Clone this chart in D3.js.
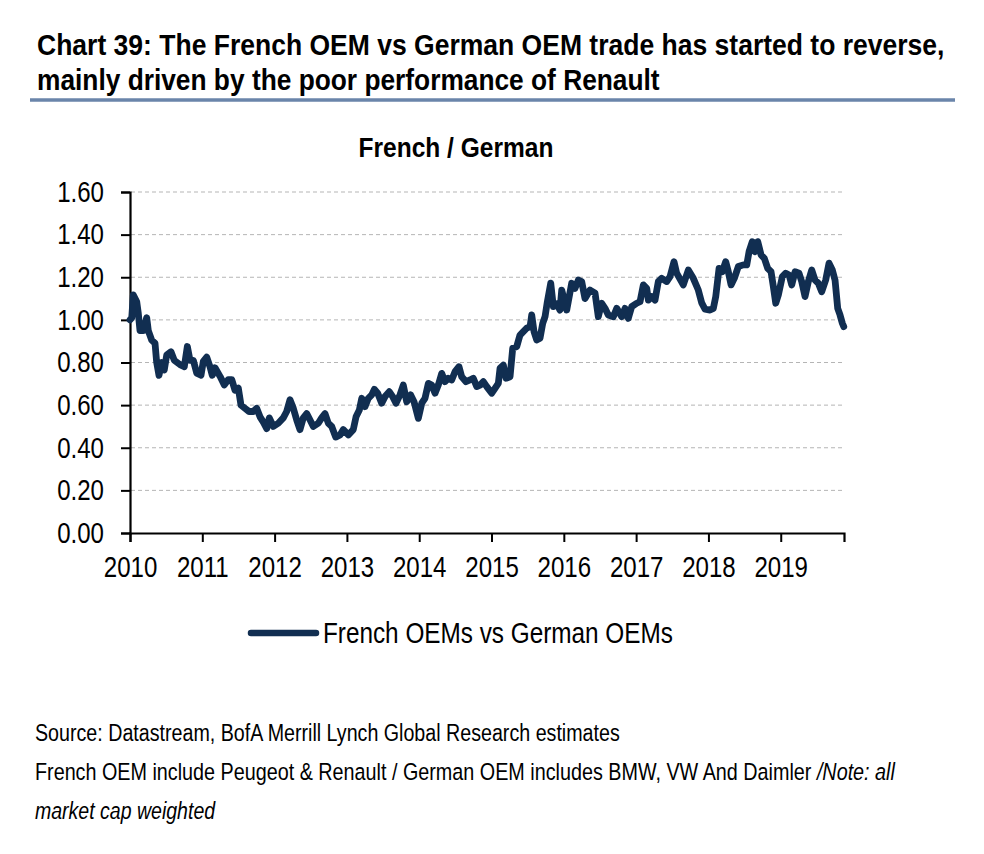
<!DOCTYPE html>
<html><head><meta charset="utf-8">
<script src="https://cdn.jsdelivr.net/npm/d3@7"></script>
<style>
body{margin:0;background:#fff;}
svg text{font-family:"Liberation Sans Narrow","Arial Narrow","Liberation Sans",Arial,sans-serif;fill:#000;}
</style></head><body>
<svg id="chart" width="984" height="854"></svg>
<script>
// ---- data (decimal years, ratio French/German) ----
const dates = [
2010.000,2010.024,2010.046,2010.093,2010.115,2010.138,2010.184,2010.231,2010.253,2010.300,
2010.346,2010.369,2010.401,2010.438,2010.474,2010.508,2010.567,2010.613,2010.692,2010.751,
2010.793,2010.830,2010.876,2010.923,2010.982,2011.014,2011.061,2011.107,2011.138,2011.176,
2011.245,2011.304,2011.360,2011.407,2011.452,2011.498,2011.535,2011.591,2011.646,2011.705,
2011.752,2011.798,2011.844,2011.891,2011.927,2011.982,2012.051,2012.120,2012.167,2012.213,
2012.259,2012.306,2012.351,2012.397,2012.444,2012.490,2012.535,2012.604,2012.651,2012.697,
2012.743,2012.790,2012.845,2012.905,2012.950,2013.020,2013.088,2013.126,2013.172,2013.205,
2013.250,2013.296,2013.343,2013.379,2013.426,2013.481,2013.527,2013.586,2013.633,2013.679,
2013.734,2013.780,2013.827,2013.882,2013.928,2013.988,2014.035,2014.080,2014.126,2014.173,
2014.219,2014.264,2014.311,2014.357,2014.402,2014.449,2014.495,2014.550,2014.588,2014.647,
2014.703,2014.748,2014.795,2014.841,2014.887,2014.934,2015.003,2015.048,2015.094,2015.118,
2015.163,2015.201,2015.256,2015.293,2015.349,2015.394,2015.440,2015.487,2015.533,2015.556,
2015.588,2015.625,2015.671,2015.708,2015.740,2015.772,2015.819,2015.855,2015.902,2015.947,
2015.971,2016.040,2016.109,2016.155,2016.201,2016.247,2016.293,2016.362,2016.432,2016.477,
2016.524,2016.570,2016.615,2016.685,2016.732,2016.801,2016.846,2016.892,2016.939,2017.008,
2017.054,2017.100,2017.147,2017.169,2017.215,2017.261,2017.307,2017.354,2017.423,2017.469,
2017.524,2017.561,2017.652,2017.722,2017.791,2017.860,2017.907,2017.953,2018.022,2018.068,
2018.101,2018.147,2018.192,2018.239,2018.275,2018.313,2018.358,2018.413,2018.483,2018.530,
2018.562,2018.607,2018.645,2018.682,2018.728,2018.773,2018.820,2018.866,2018.898,2018.931,
2018.967,2019.022,2019.069,2019.115,2019.152,2019.198,2019.253,2019.290,2019.336,2019.382,
2019.429,2019.474,2019.520,2019.567,2019.622,2019.668,2019.714,2019.751,2019.788,2019.820,
2019.852,2019.872
];
const values = [
1.00,1.01,1.117,1.085,1.03,0.95,0.95,1.01,0.95,0.905,
0.89,0.80,0.74,0.80,0.765,0.835,0.85,0.81,0.79,0.78,
0.875,0.81,0.81,0.75,0.74,0.805,0.825,0.78,0.74,0.775,
0.735,0.695,0.72,0.72,0.67,0.68,0.60,0.585,0.57,0.57,
0.585,0.545,0.52,0.49,0.54,0.50,0.515,0.54,0.57,0.625,
0.585,0.53,0.485,0.54,0.56,0.53,0.50,0.515,0.54,0.56,
0.515,0.50,0.45,0.46,0.485,0.46,0.485,0.545,0.577,0.632,
0.593,0.632,0.648,0.674,0.656,0.609,0.64,0.663,0.64,0.609,
0.648,0.694,0.616,0.648,0.616,0.538,0.609,0.632,0.702,0.694,
0.656,0.694,0.749,0.71,0.726,0.718,0.757,0.78,0.733,0.71,
0.718,0.726,0.687,0.694,0.71,0.687,0.656,0.679,0.702,0.773,
0.788,0.726,0.733,0.867,0.875,0.929,0.945,0.961,0.968,1.023,
0.945,0.906,0.914,0.984,1.015,1.085,1.172,1.062,1.075,1.046,
1.14,1.046,1.172,1.148,1.187,1.18,1.10,1.14,1.125,1.015,
1.078,1.054,1.023,1.015,1.054,1.015,1.054,1.007,1.062,1.078,
1.085,1.164,1.148,1.093,1.109,1.093,1.18,1.195,1.18,1.203,
1.273,1.219,1.164,1.234,1.195,1.14,1.08,1.05,1.046,1.054,
1.109,1.242,1.226,1.273,1.226,1.164,1.195,1.25,1.258,1.258,
1.32,1.367,1.32,1.367,1.305,1.289,1.242,1.226,1.156,1.078,
1.117,1.203,1.219,1.211,1.164,1.226,1.219,1.18,1.109,1.18,
1.234,1.187,1.172,1.132,1.187,1.266,1.234,1.187,1.054,1.023,
0.984,0.968
];
const yTicks = [0,0.2,0.4,0.6,0.8,1.0,1.2,1.4,1.6];
const xTickYears = [2010,2011,2012,2013,2014,2015,2016,2017,2018,2019];
const seriesName = "French OEMs vs German OEMs";
const titleLines = ["Chart 39: The French OEM vs German OEM trade has started to reverse,",
                    "mainly driven by the poor performance of Renault"];
const chartTitle = "French / German";
const footerLines = [
  [{t:"Source: Datastream, BofA Merrill Lynch Global Research estimates", i:false}],
  [{t:"French OEM include Peugeot & Renault / German OEM includes BMW, VW And Daimler ", i:false},{t:"/Note: all", i:true}],
  [{t:"market cap weighted", i:true}]
];

// ---- helpers: emulate a condensed (narrow) face by horizontal scaling ----
function squeeze(node, factor){
  const bb = node.getBBox();
  const anchor = node.getAttribute("text-anchor") || getComputedStyle(node).textAnchor || "start";
  let ax = bb.x;
  if(anchor==="middle") ax = bb.x + bb.width/2;
  else if(anchor==="end") ax = bb.x + bb.width;
  const prev = node.getAttribute("transform") || "";
  node.setAttribute("transform", `${prev} translate(${ax},0) scale(${factor},1) translate(${-ax},0)`);
}
function fitWidth(node, target){
  const w = node.getBBox().width;
  squeeze(node, target / w);
}

// ---- drawing ----
const svg = d3.select("#chart");
const lineColor = "#112e51";
const M = {left:130, right:843, top:192, bottom:533};

// title
const titleWidths = [908, 623];
titleLines.forEach((s,i)=>{
  const t = svg.append("text").attr("x",37).attr("y",55+i*35)
    .attr("font-size",30).attr("font-weight","bold").text(s);
  fitWidth(t.node(), titleWidths[i]);
});
svg.append("line").attr("x1",30).attr("x2",955).attr("y1",100).attr("y2",100)
  .attr("stroke","#6a85aa").attr("stroke-width",3.5);

const ct = svg.append("text").attr("x",456).attr("y",157).attr("text-anchor","middle")
  .attr("font-size",27).attr("font-weight","bold").text(chartTitle);
fitWidth(ct.node(), 195);

const x = d3.scaleLinear().domain([2010, 2019.875]).range([M.left, M.right+1]);
const y = d3.scaleLinear().domain([0,1.6]).range([M.bottom, M.top]);

// gridlines
svg.append("g").selectAll("line").data(yTicks.filter(d=>d>0)).join("line")
  .attr("x1",M.left+1).attr("x2",M.right).attr("y1",d=>y(d)).attr("y2",d=>y(d))
  .attr("stroke","#b5b5b5").attr("stroke-width",1).attr("stroke-dasharray","4,3");

// y axis
const yAxis = svg.append("g").attr("transform",`translate(${M.left},0)`)
  .call(d3.axisLeft(y).tickValues(yTicks).tickFormat(d3.format(".2f")).tickSize(9).tickPadding(17));
// x axis
const xAxis = svg.append("g").attr("transform",`translate(0,${M.bottom})`)
  .call(d3.axisBottom(x).tickValues(xTickYears).tickFormat(d3.format("d")).tickSize(9).tickPadding(14));

[yAxis, xAxis].forEach(ax=>{
  ax.attr("font-family",null).attr("font-size",null);
  ax.select(".domain").attr("stroke","#000").attr("stroke-width",2.2).attr("fill","none");
  ax.selectAll(".tick line").attr("stroke","#000").attr("stroke-width",2);
  ax.selectAll(".tick text").attr("font-size",29).attr("fill","#000");
});
yAxis.selectAll(".tick text").each(function(){ squeeze(this, 0.83); });
xAxis.selectAll(".tick text").each(function(){ squeeze(this, 0.83); });

// series line
const data = dates.map((d,i)=>({d, v:values[i]}));
svg.append("path").datum(data)
  .attr("fill","none").attr("stroke",lineColor).attr("stroke-width",6.8)
  .attr("stroke-linejoin","round").attr("stroke-linecap","round")
  .attr("d", d3.line().x(p=>x(p.d)).y(p=>y(p.v)));

// legend
svg.append("line").attr("x1",251).attr("x2",316).attr("y1",633).attr("y2",633)
  .attr("stroke",lineColor).attr("stroke-width",6.5).attr("stroke-linecap","round");
const lt = svg.append("text").attr("x",323).attr("y",643).attr("font-size",29).text(seriesName);
fitWidth(lt.node(), 350);

// footer
const footerWidths = [585, 861, 181];
footerLines.forEach((parts,i)=>{
  const t = svg.append("text").attr("x",35).attr("y",741+i*39).attr("font-size",23.5);
  parts.forEach(p=>t.append("tspan").attr("font-style",p.i?"italic":"normal").text(p.t));
  fitWidth(t.node(), footerWidths[i]);
});
</script>
</body></html>
